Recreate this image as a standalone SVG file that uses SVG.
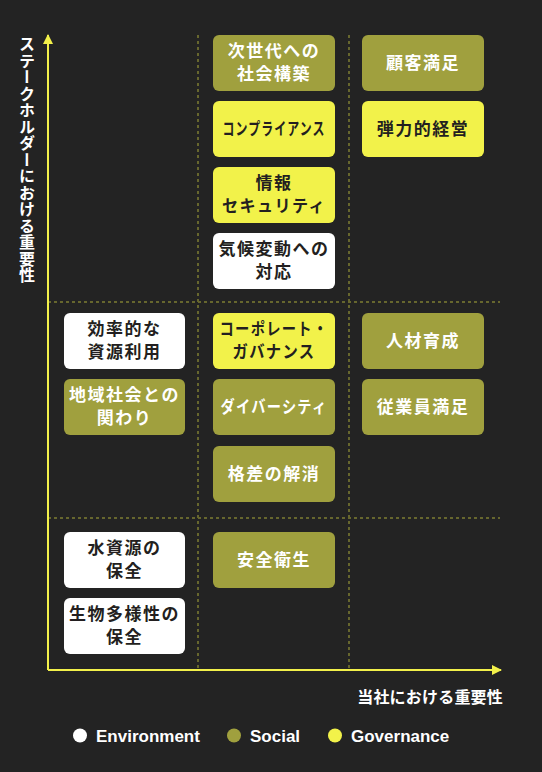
<svg xmlns="http://www.w3.org/2000/svg" width="542" height="772" viewBox="0 0 542 772">
<style>
.bg{fill:#232323}
.ax{stroke:#f2f04a;stroke-width:2;fill:none}
.dv{stroke:#66662e;stroke-width:2;stroke-dasharray:3 3;fill:none}
.env rect{fill:#ffffff}
.soc rect{fill:#a0a03e}
.gov rect{fill:#f2f24a}
text{font-family:"Noto Sans CJK JP","Noto Sans",sans-serif;font-weight:700}
.n text{font-size:17px;letter-spacing:1.5px;text-anchor:middle}
.env text,.gov text{fill:#231f20}
.soc text{fill:#ffffff}
.lbl{fill:#ffffff;font-size:16px}
.lg{font-family:"Liberation Sans",Arial,sans-serif;font-weight:700;font-size:17px;fill:#ffffff}
</style>
<defs>
<marker id="ah" viewBox="0 0 10 10" refX="9" refY="5" markerWidth="5" markerHeight="5" orient="auto" markerUnits="strokeWidth"><path d="M0,0 L10,5 L0,10 z" fill="#f2f04a"/></marker>
</defs>
<rect class="bg" x="0" y="0" width="542" height="772"/>
<g id="connectors">
<path class="dv" d="M198,35 V670"/>
<path class="dv" d="M349,35 V670"/>
<path class="dv" d="M48,302 H500"/>
<path class="dv" d="M48,518 H500"/>
<path class="ax" d="M48,670 V35" marker-end="url(#ah)"/>
<path class="ax" d="M48,670 H501" marker-end="url(#ah)"/>
</g>
<g id="axis-labels">
<text class="lbl" x="27" y="36" style="writing-mode:vertical-rl" letter-spacing="0.5">ステークホルダーにおける重要性</text>
<text class="lbl" x="503" y="703" text-anchor="end" letter-spacing="0.2">当社における重要性</text>
</g>
<g id="n1" class="n soc"><rect x="213" y="35" width="122" height="56" rx="6"/><text x="274" y="57">次世代への</text><text x="274" y="80">社会構築</text></g>
<g id="n2" class="n gov"><rect x="213" y="101" width="122" height="56" rx="6"/><text x="274" y="135" letter-spacing="0" textLength="103" lengthAdjust="spacingAndGlyphs">コンプライアンス</text></g>
<g id="n3" class="n gov"><rect x="213" y="167" width="122" height="56" rx="6"/><text x="274" y="189">情報</text><text x="274" y="212" textLength="104" lengthAdjust="spacingAndGlyphs" letter-spacing="0">セキュリティ</text></g>
<g id="n4" class="n env"><rect x="213" y="233" width="122" height="56" rx="6"/><text x="274" y="255">気候変動への</text><text x="274" y="278">対応</text></g>
<g id="n5" class="n soc"><rect x="362" y="35" width="122" height="56" rx="6"/><text x="423" y="69">顧客満足</text></g>
<g id="n6" class="n gov"><rect x="362" y="101" width="122" height="56" rx="6"/><text x="423" y="135">弾力的経営</text></g>
<g id="n7" class="n env"><rect x="64" y="313" width="121" height="56" rx="6"/><text x="124.5" y="335">効率的な</text><text x="124.5" y="358">資源利用</text></g>
<g id="n8" class="n soc"><rect x="64" y="379" width="121" height="56" rx="6"/><text x="124.5" y="401">地域社会との</text><text x="124.5" y="424">関わり</text></g>
<g id="n9" class="n gov"><rect x="213" y="313" width="122" height="56" rx="6"/><text x="274" y="335" letter-spacing="0" textLength="109" lengthAdjust="spacingAndGlyphs">コーポレート・</text><text x="274" y="358" letter-spacing="0" textLength="83" lengthAdjust="spacingAndGlyphs">ガバナンス</text></g>
<g id="n10" class="n soc"><rect x="213" y="379" width="122" height="56" rx="6"/><text x="274" y="413" letter-spacing="0" textLength="107" lengthAdjust="spacingAndGlyphs">ダイバーシティ</text></g>
<g id="n11" class="n soc"><rect x="213" y="446" width="122" height="56" rx="6"/><text x="274" y="480">格差の解消</text></g>
<g id="n12" class="n soc"><rect x="362" y="313" width="122" height="56" rx="6"/><text x="423" y="347">人材育成</text></g>
<g id="n13" class="n soc"><rect x="362" y="379" width="122" height="56" rx="6"/><text x="423" y="413">従業員満足</text></g>
<g id="n14" class="n env"><rect x="64" y="532" width="121" height="56" rx="6"/><text x="124.5" y="554">水資源の</text><text x="124.5" y="577">保全</text></g>
<g id="n15" class="n env"><rect x="64" y="598" width="121" height="56" rx="6"/><text x="124.5" y="620">生物多様性の</text><text x="124.5" y="643">保全</text></g>
<g id="n16" class="n soc"><rect x="213" y="532" width="122" height="56" rx="6"/><text x="274" y="566">安全衛生</text></g>
<g id="legend">
<circle cx="80" cy="735.5" r="7" fill="#ffffff"/><text class="lg" x="96" y="741.5">Environment</text>
<circle cx="234" cy="735.5" r="7" fill="#a0a03e"/><text class="lg" x="250" y="741.5">Social</text>
<circle cx="335" cy="735.5" r="7" fill="#f2f24a"/><text class="lg" x="351" y="741.5">Governance</text>
</g>
</svg>
